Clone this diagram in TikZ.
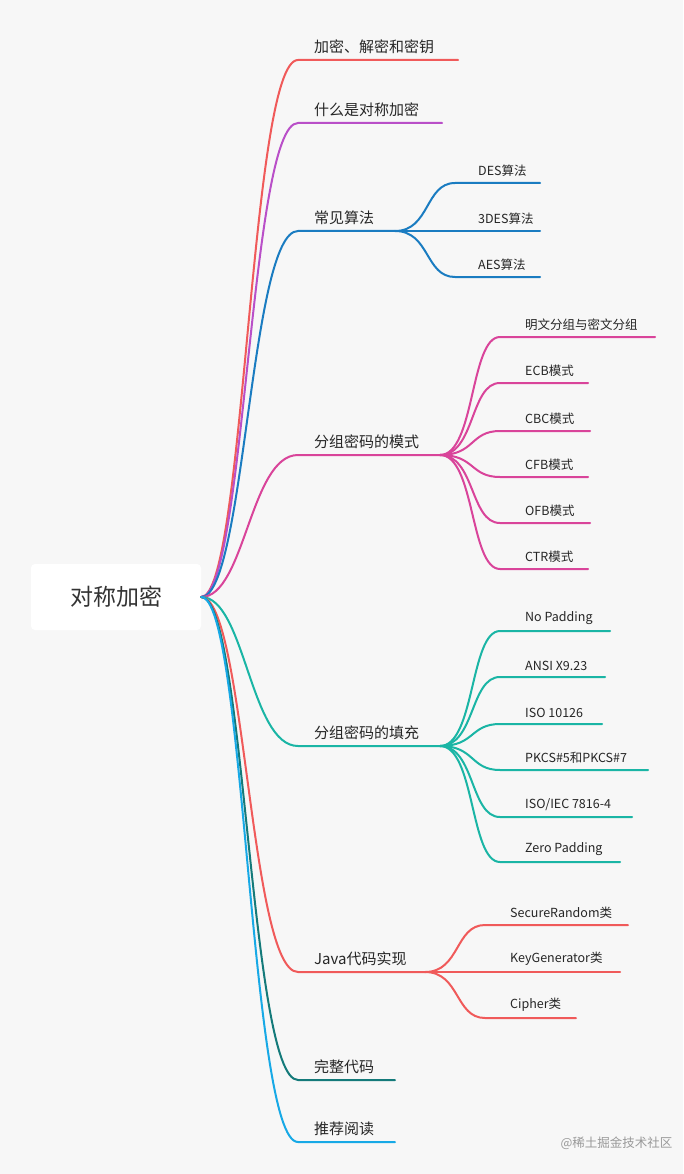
\documentclass[tikz,border=0pt]{standalone}
\usepackage{fontspec}
\setmainfont{Noto Sans CJK SC}
\usetikzlibrary{positioning}
\definecolor{bgGray}{HTML}{F7F7F7}
\definecolor{cRed}{HTML}{F05A5A}
\definecolor{cPurple}{HTML}{B94FC8}
\definecolor{cBlue}{HTML}{1A7CC1}
\definecolor{cPink}{HTML}{D9449A}
\definecolor{cTeal}{HTML}{1AB5A5}
\definecolor{cDark}{HTML}{147A7A}
\definecolor{cSky}{HTML}{17A9E6}
\tikzset{%
  root box/.style={
    fill=white,
    rounded corners=4pt,
    minimum width=170pt,
    minimum height=66pt,
    font=\fontsize{23}{27}\selectfont,
    text=black!80
  },
  topic/.style={
    anchor=south west,
    inner sep=2pt,
    yshift=4pt,
    font=\fontsize{15}{18}\selectfont,
    text=black!85
  },
  subtopic/.style={
    anchor=south west,
    inner sep=2pt,
    yshift=4pt,
    font=\fontsize{12.5}{15}\selectfont,
    text=black!85
  },
  branch/.style={line width=2pt, line cap=round},
}
% branch from the root to one topic
\newcommand{\topicline}[5]{% name, y, end x, colour, text
  \coordinate (#1-s) at (298,#2);
  \coordinate (#1-e) at (#3,#2);
  \node[topic] (#1) at (312,#2) {#5};
  \draw[branch,#4] (root.east) .. controls (245,597) and (250,#2) .. (#1-s) -- (#1-e);
}
\begin{document}
\begin{tikzpicture}[x=1pt,y=-1pt]
  \fill[bgGray] (0,0) rectangle (683,1174);

  % Root
  \node[root box] (root) at (116,597) {对称加密};

  % Topics
  \topicline{keys}{60}{458}{cRed}{加密、解密和密钥}
  \topicline{what}{123}{442}{cPurple}{什么是对称加密}
  \topicline{algo}{231}{395}{cBlue}{常见算法}
  \topicline{mode}{455}{440}{cPink}{分组密码的模式}
  \topicline{pad}{746}{440}{cTeal}{分组密码的填充}
  \topicline{java}{972}{425}{cRed}{Java代码实现}
  \topicline{code}{1080}{395}{cDark}{完整代码}
  \topicline{read}{1142}{395}{cSky}{推荐阅读}

  % Common algorithms
  \foreach \y/\e/\t [count=\i] in {183/540/DES算法, 231/540/3DES算法, 277/540/AES算法} {
    \coordinate (algo\i-s) at (455,\y);
    \coordinate (algo\i-e) at (\e,\y);
    \node[subtopic] (algo\i) at (476,\y) {\t};
    \draw[branch,cBlue] (algo-e) .. controls (430,231) and (425,\y) .. (algo\i-s) -- (algo\i-e);
  }

  % Block modes
  \foreach \y/\e/\t [count=\i] in {337/655/明文分组与密文分组, 383/588/ECB模式, 431/590/CBC模式,
      477/588/CFB模式, 523/590/OFB模式, 569/588/CTR模式} {
    \coordinate (mode\i-s) at (500,\y);
    \coordinate (mode\i-e) at (\e,\y);
    \node[subtopic] (mode\i) at (523,\y) {\t};
    \draw[branch,cPink] (mode-e) .. controls (475,455) and (470,\y) .. (mode\i-s) -- (mode\i-e);
  }

  % Padding
  \foreach \y/\e/\t [count=\i] in {631/610/No Padding, 677/605/ANSI X9.23, 724/602/ISO 10126,
      770/648/PKCS\#5和PKCS\#7, 817/632/{ISO/IEC 7816-4}, 862/620/Zero Padding} {
    \coordinate (pad\i-s) at (500,\y);
    \coordinate (pad\i-e) at (\e,\y);
    \node[subtopic] (pad\i) at (523,\y) {\t};
    \draw[branch,cTeal] (pad-e) .. controls (475,746) and (470,\y) .. (pad\i-s) -- (pad\i-e);
  }

  % Java
  \foreach \y/\e/\t [count=\i] in {925/628/SecureRandom类, 972/620/KeyGenerator类, 1018/576/Cipher类} {
    \coordinate (java\i-s) at (485,\y);
    \coordinate (java\i-e) at (\e,\y);
    \node[subtopic] (java\i) at (508,\y) {\t};
    \draw[branch,cRed] (java-e) .. controls (460,972) and (455,\y) .. (java\i-s) -- (java\i-e);
  }

  % Watermark
  \node[anchor=east, text=black!40, font=\fontsize{12.5}{15}\selectfont] (mark) at (676,1143) {@稀土掘金技术社区};
\end{tikzpicture}
\end{document}
